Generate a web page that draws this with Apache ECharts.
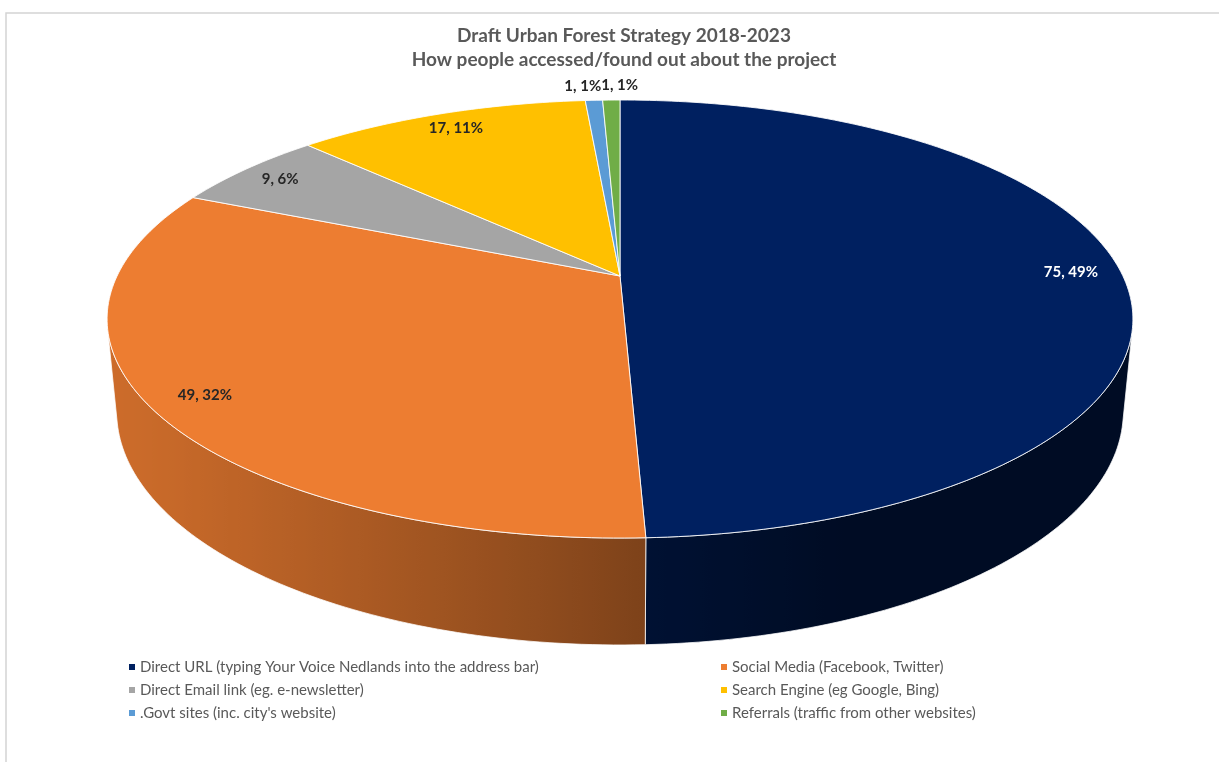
<!DOCTYPE html>
<html>
<head>
<meta charset="utf-8">
<script src="https://cdn.jsdelivr.net/npm/echarts@6/dist/echarts.min.js"></script>
<style>
  html, body { margin: 0; padding: 0; background: #ffffff; }
  #chart { width: 1219px; height: 762px; }
</style>
</head>
<body>
<div id="chart"></div>
<script>
// ---- data ----
const categories = [
  'Direct URL (typing Your Voice Nedlands into the address bar)',
  'Social Media (Facebook, Twitter)',
  'Direct Email link (eg. e-newsletter)',
  'Search Engine (eg Google, Bing)',
  '.Govt sites (inc. city\'s website)',
  'Referrals (traffic from other websites)'
];
const visits = [75, 49, 9, 17, 1, 1];
const titleLines = [
  'Draft Urban Forest Strategy 2018-2023',
  'How people accessed/found out about the project'
];

// ---- styling ----
const sliceColors = ['#002060', '#ED7D31', '#A5A5A5', '#FFC000', '#5B9BD5', '#70AD47'];
const labelColors = ['#ffffff', '#262626', '#262626', '#262626', '#262626', '#262626'];
const FONT = 'Lato, "Noto Sans", sans-serif';
const LABEL_SIZE = 15;

// ---- 3D pie view: a disk of radius 1 seen in perspective from above ----
const VIEW = { cx: 620, cy: 276, focal: 2325, dist: 4.623, tilt: 24.75 * Math.PI / 180, height: 0.203 };
const sinT = Math.sin(VIEW.tilt), cosT = Math.cos(VIEW.tilt);

function project(X, Y, Z) {
  const depth = VIEW.dist - Y * sinT + Z * cosT;
  const ys = Y * cosT + Z * sinT;
  return [VIEW.cx + VIEW.focal * X / depth, VIEW.cy - VIEW.focal * ys / depth];
}
// angle in degrees, clockwise from the far side (12 o'clock)
function rim(a, r, y) {
  const t = a * Math.PI / 180;
  return project(r * Math.sin(t), y, r * Math.cos(t));
}

// slice angles from the values
const total = visits.reduce((s, v) => s + v, 0);
const angles = [];
{
  let acc = 0;
  visits.forEach(v => {
    const s = acc / total * 360;
    acc += v;
    angles.push([s, acc / total * 360]);
  });
}

// part of the side wall facing the camera
const wallFrom = Math.acos(-1 / (VIEW.dist * cosT)) * 180 / Math.PI;
const wallTo = 360 - wallFrom;

// side lighting from the front-left
const L = (() => { const l = [-0.936, 0, -0.351]; const n = Math.hypot(...l); return l.map(c => c / n); })();
function shadeFactor(a) {
  const t = a * Math.PI / 180;
  const d = Math.sin(t) * L[0] + Math.cos(t) * L[2];
  return 0.38 + 0.48 * Math.max(0, d);
}
function shade(hex, f) {
  const n = parseInt(hex.slice(1), 16);
  const r = Math.round(((n >> 16) & 255) * f), g = Math.round(((n >> 8) & 255) * f), b = Math.round((n & 255) * f);
  return 'rgb(' + r + ',' + g + ',' + b + ')';
}

function arcAngles(s, e) {
  const n = Math.max(2, Math.ceil((e - s) / 1));
  const out = [];
  for (let k = 0; k <= n; k++) out.push(s + (e - s) * k / n);
  return out;
}

// ---- labels: "value, percent" ----
const measureCtx = document.createElement('canvas').getContext('2d');
function textWidth(t) {
  measureCtx.font = 'bold ' + LABEL_SIZE + 'px ' + FONT;
  return measureCtx.measureText(t).width;
}
const labelTexts = visits.map(v => v + ', ' + Math.round(v / total * 100) + '%');
const labelPos = angles.map(([s, e], i) => {
  const mid = (s + e) / 2;
  const small = visits[i] / total < 0.03;
  const p = rim(mid, small ? 1.1 : 0.9, 0);
  return { x: p[0], y: p[1], outside: small };
});
// spread neighbouring outside labels side by side
{
  let i = 0;
  while (i < labelPos.length) {
    if (!labelPos[i].outside) { i++; continue; }
    let j = i;
    while (j + 1 < labelPos.length && labelPos[j + 1].outside) j++;
    const idx = [];
    for (let k = i; k <= j; k++) idx.push(k);
    const widths = idx.map(k => textWidth(labelTexts[k]));
    const midX = idx.reduce((s, k) => s + labelPos[k].x, 0) / idx.length;
    const full = widths.reduce((s, w) => s + w, 0);
    let x = midX - full / 2;
    idx.forEach((k, n) => {
      labelPos[k].x = x + widths[n] / 2;
      x += widths[n];
    });
    i = j + 1;
  }
}

function buildSlice(i) {
  const [s, e] = angles[i];
  const color = sliceColors[i];
  const children = [];

  // side wall
  const lo = Math.max(s, wallFrom), hi = Math.min(e, wallTo);
  if (hi > lo) {
    const as = arcAngles(lo, hi);
    const top = as.map(a => rim(a, 1, 0));
    const bottom = as.slice().reverse().map(a => rim(a, 1, -VIEW.height));
    const xs = top.map(p => p[0]);
    const x0 = Math.min(...xs), x1 = Math.max(...xs);
    const stops = as.map((a, k) => ({
      offset: x1 > x0 ? (top[k][0] - x0) / (x1 - x0) : 0,
      color: shade(color, shadeFactor(a))
    })).sort((p, q) => p.offset - q.offset);
    children.push({
      type: 'polygon',
      shape: { points: top.concat(bottom) },
      style: {
        fill: new echarts.graphic.LinearGradient(x0, 0, x1, 0, stops, true),
        stroke: 'rgba(255,255,255,0.75)',
        lineWidth: 1
      }
    });
  }

  // top face
  const pts = [project(0, 0, 0)].concat(arcAngles(s, e).map(a => rim(a, 1, 0)));
  children.push({
    type: 'polygon',
    shape: { points: pts },
    style: { fill: color, stroke: 'rgba(255,255,255,0.85)', lineWidth: 1 }
  });

  // data label
  const lp = labelPos[i];
  children.push({
    type: 'text',
    z2: 10,
    style: {
      text: labelTexts[i],
      x: lp.x,
      y: lp.y,
      align: 'center',
      verticalAlign: 'middle',
      fill: labelColors[i],
      font: 'bold ' + LABEL_SIZE + 'px ' + FONT
    }
  });
  return { type: 'group', children };
}

const chart = echarts.init(document.getElementById('chart'), null, { renderer: 'canvas' });

const legendText = { color: '#595959', fontSize: 15, fontFamily: FONT, lineHeight: 16 };
chart.setOption({
  animation: false,
  backgroundColor: '#ffffff',
  title: {
    text: titleLines.join('\n'),
    left: 619,
    top: 19,
    textAlign: 'center',
    textStyle: { color: '#595959', fontSize: 19, fontWeight: 'bold', fontFamily: FONT, lineHeight: 24 }
  },
  legend: [
    {
      data: [categories[0], categories[2], categories[4]],
      orient: 'vertical', left: 124, top: 654,
      icon: 'rect', itemWidth: 6, itemHeight: 6, itemGap: 7,
      selectedMode: false, textStyle: legendText
    },
    {
      data: [categories[1], categories[3], categories[5]],
      orient: 'vertical', left: 716, top: 654,
      icon: 'rect', itemWidth: 6, itemHeight: 6, itemGap: 7,
      selectedMode: false, textStyle: legendText
    }
  ],
  graphic: [{
    type: 'rect',
    shape: { x: 6, y: 13, width: 1400, height: 900 },
    style: { fill: 'none', stroke: '#d4d4d4', lineWidth: 1.5 },
    silent: true
  }],
  series: categories.map((name, i) => ({
    type: 'custom',
    name,
    coordinateSystem: 'none',
    silent: true,
    itemStyle: { color: sliceColors[i] },
    data: [visits[i]],
    renderItem: () => buildSlice(i)
  }))
});
</script>
</body>
</html>
